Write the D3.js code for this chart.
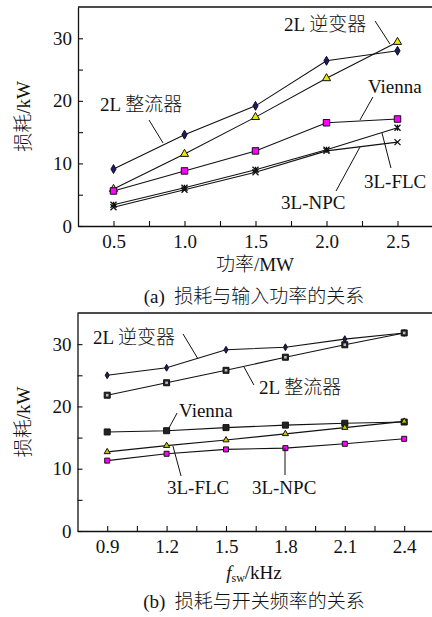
<!DOCTYPE html>
<html>
<head>
<meta charset="utf-8">
<script src="https://cdn.jsdelivr.net/npm/d3@7"></script>
<style>
  html, body { margin: 0; padding: 0; background: #fff; }
  svg { display: block; }
  svg text { font-family: "Liberation Serif", "Times New Roman", "DejaVu Serif", "Noto Sans CJK SC", serif !important; fill: #111; font-weight: 300; }
</style>
</head>
<body>
<svg id="chart" width="432" height="617"></svg>
<script>
// ---- (a) loss vs input power ----
const powerMW = [0.5, 1.0, 1.5, 2.0, 2.5];
const powerTicks = [0.5, 1.0, 1.5, 2.0, 2.5];
const powerMinor = [0.75, 1.25, 1.75, 2.25];
const lossA_2Lrect = [9.1, 14.6, 19.2, 26.4, 28.0];
const lossA_2Linv  = [5.9, 11.5, 17.4, 23.6, 29.4];
const lossA_vienna = [5.6, 8.8, 12.0, 16.5, 17.1];
const lossA_npc    = [3.0, 5.8, 8.6, 12.0, 13.4];
const lossA_flc    = [3.4, 6.1, 9.0, 12.2, 15.7];

// ---- (b) loss vs switching frequency ----
const fswKHz = [0.9, 1.2, 1.5, 1.8, 2.1, 2.4];
const fswTicks = [0.9, 1.2, 1.5, 1.8, 2.1, 2.4];
const fswMinor = [1.05, 1.35, 1.65, 1.95, 2.25];
const lossB_2Linv  = [25.0, 26.2, 29.1, 29.5, 30.8, 31.8];
const lossB_2Lrect = [21.8, 23.8, 25.8, 27.9, 29.9, 31.8];
const lossB_vienna = [15.9, 16.1, 16.6, 17.0, 17.3, 17.5];
const lossB_flc    = [12.7, 13.7, 14.6, 15.6, 16.6, 17.6];
const lossB_npc    = [11.3, 12.4, 13.1, 13.3, 14.0, 14.8];

const lossTicks = [0, 10, 20, 30];
const lossMinor = [5, 15, 25];

const svg = d3.select("#chart");
const FS = 19;
const FONT = '"Liberation Serif", "Times New Roman", "DejaVu Serif", "Noto Sans CJK SC", serif';

function txt(sel) {
  return sel.style("font-family", FONT).style("font-size", FS + "px");
}

function seriesMarker(g, type, size, fill) {
  if (type === "x" || type === "star") {
    const h = size / 2;
    let d = `M${-h},${-h}L${h},${h}M${-h},${h}L${h},${-h}`;
    if (type === "star") d += `M0,${-h}L0,${h}`;
    g.append("path").attr("d", d).attr("stroke", "#111").attr("stroke-width", 1.3).attr("fill", "none");
    return;
  }
  const sym = { diamond: d3.symbolDiamond, triangle: d3.symbolTriangle, square: d3.symbolSquare }[type];
  g.append("path").attr("d", d3.symbol(sym, size * size * (type === "triangle" ? 0.45 : type === "diamond" ? 0.55 : 1))())
    .attr("fill", fill).attr("stroke", "#111").attr("stroke-width", 1);
}

function panel(cfg) {
  const x = d3.scaleLinear().domain(cfg.xDomain).range(cfg.xRange);
  const y = d3.scaleLinear().domain([0, 35]).range(cfg.yRange);
  const g = svg.append("g");

  // frame: top border
  g.append("line").attr("x1", cfg.xRange[0]).attr("x2", cfg.xRange[1])
    .attr("y1", cfg.yRange[1]).attr("y2", cfg.yRange[1])
    .attr("stroke", "#111").attr("stroke-width", 1.3);

  // x axis (ticks point inward)
  const xa = g.append("g").attr("transform", `translate(0,${cfg.yRange[0]})`)
    .call(d3.axisBottom(x).tickValues(cfg.xTicks.concat(cfg.xMinor))
      .tickSizeInner(-5).tickSizeOuter(0).tickPadding(9)
      .tickFormat(v => cfg.xTicks.includes(v) ? d3.format(".1f")(v) : ""));
  xa.attr("font-family", null);
  xa.select(".domain").attr("stroke", "#111").attr("stroke-width", 1.3);
  xa.selectAll(".tick line").attr("stroke", "#111").attr("stroke-width", 1.1);
  txt(xa.selectAll("text")).attr("fill", "#111");

  // y axis
  const ya = g.append("g").attr("transform", `translate(${cfg.xRange[0]},0)`)
    .call(d3.axisLeft(y).tickValues(lossTicks.concat(lossMinor))
      .tickSizeInner(-5).tickSizeOuter(0).tickPadding(6)
      .tickFormat(v => lossTicks.includes(v) ? String(v) : ""));
  ya.attr("font-family", null);
  ya.select(".domain").attr("stroke", "#111").attr("stroke-width", 1.3);
  ya.selectAll(".tick line").attr("stroke", "#111").attr("stroke-width", 1.1);
  txt(ya.selectAll("text")).attr("fill", "#111");

  // series
  const line = d3.line().x((d, i) => x(cfg.xs[i])).y(d => y(d));
  cfg.series.forEach(s => {
    g.append("path").datum(s.values).attr("d", line)
      .attr("fill", "none").attr("stroke", "#111").attr("stroke-width", 1.1);
  });
  cfg.series.forEach(s => {
    s.values.forEach((v, i) => {
      const mg = g.append("g").attr("transform", `translate(${x(cfg.xs[i])},${y(v)})`);
      seriesMarker(mg, s.marker, s.size, s.fill);
      if (s.inner) {
        mg.append("rect").attr("x", -1.3).attr("y", -1.3).attr("width", 2.6).attr("height", 2.6)
          .attr("fill", s.inner);
      }
    });
  });

  // callouts
  cfg.notes.forEach(n => {
    g.append("line")
      .attr("x1", x(n.from[0])).attr("y1", y(n.from[1]))
      .attr("x2", x(n.to[0])).attr("y2", y(n.to[1]))
      .attr("stroke", "#111").attr("stroke-width", 1);
    txt(g.append("text").attr("x", x(n.at[0])).attr("y", y(n.at[1])))
      .attr("xml:space", "preserve").text(n.text);
  });

  // y title
  const cy = (cfg.yRange[0] + cfg.yRange[1]) / 2;
  txt(g.append("text").attr("transform", `translate(30,${cy}) rotate(-90)`))
    .attr("text-anchor", "middle").text("损耗/kW");

  return { x, y, g };
}

panel({
  xDomain: [0.25, 2.75], xRange: [78, 433], yRange: [226, 7],
  xs: powerMW, xTicks: powerTicks, xMinor: powerMinor,
  series: [
    { values: lossA_2Lrect, marker: "diamond", size: 6.5, fill: "#1a1a6e" },
    { values: lossA_2Linv, marker: "triangle", size: 8, fill: "#e8e800" },
    { values: lossA_vienna, marker: "square", size: 6.5, fill: "#ff00ff" },
    { values: lossA_npc, marker: "x", size: 6 },
    { values: lossA_flc, marker: "star", size: 6 }
  ],
  notes: [
    { text: "2L 逆变器", at: [1.701, 31.17], from: [2.342, 32.76], to: [2.447, 29.09] },
    { text: "2L 整流器", at: [0.405, 18.38], from: [0.75, 16.94], to: [0.849, 13.27] },
    { text: "Vienna", at: [2.292, 21.26], from: [2.327, 20.62], to: [2.236, 16.94] },
    { text: "3L-FLC", at: [2.264, 6.07], from: [2.454, 9.27], to: [2.391, 14.86] },
    { text: "3L-NPC", at: [1.68, 2.72], from: [2.067, 5.59], to: [2.236, 12.63] }
  ]
});

txt(svg.append("text").attr("x", 255).attr("y", 271)).attr("text-anchor", "middle").text("功率/MW");
txt(svg.append("text").attr("x", 254).attr("y", 303)).attr("text-anchor", "middle")
  .attr("xml:space", "preserve").text("(a)  损耗与输入功率的关系");

panel({
  xDomain: [0.75, 2.55], xRange: [77.5, 433.9], yRange: [531, 313],
  xs: fswKHz, xTicks: fswTicks, xMinor: fswMinor,
  series: [
    { values: lossB_2Linv, marker: "diamond", size: 5, fill: "#1a1a6e" },
    { values: lossB_2Lrect, marker: "square", size: 6, fill: "#222", inner: "#bbb" },
    { values: lossB_vienna, marker: "square", size: 6, fill: "#222" },
    { values: lossB_flc, marker: "triangle", size: 6, fill: "#c8c800" },
    { values: lossB_npc, marker: "square", size: 5, fill: "#ff00ff" }
  ],
  notes: [
    { text: "2L 逆变器", at: [0.828, 30.02], from: [1.283, 31.63], to: [1.359, 27.61] },
    { text: "2L 整流器", at: [1.667, 21.99], from: [1.641, 23.44], to: [1.591, 26.33] },
    { text: "Vienna", at: [1.263, 18.30], from: [1.253, 18.94], to: [1.212, 16.54] },
    { text: "3L-FLC", at: [1.202, 5.94], from: [1.273, 8.83], to: [1.232, 13.65] },
    { text: "3L-NPC", at: [1.631, 5.94], from: [1.798, 8.99], to: [1.798, 13.32] }
  ]
});

const ft = txt(svg.append("text").attr("x", 254).attr("y", 579)).attr("text-anchor", "middle");
ft.append("tspan").style("font-style", "italic").text("f");
ft.append("tspan").style("font-size", "12px").attr("dy", 3).text("sw");
ft.append("tspan").attr("dy", -3).text("/kHz");
txt(svg.append("text").attr("x", 254).attr("y", 608)).attr("text-anchor", "middle")
  .attr("xml:space", "preserve").text("(b)  损耗与开关频率的关系");
</script>
</body>
</html>
